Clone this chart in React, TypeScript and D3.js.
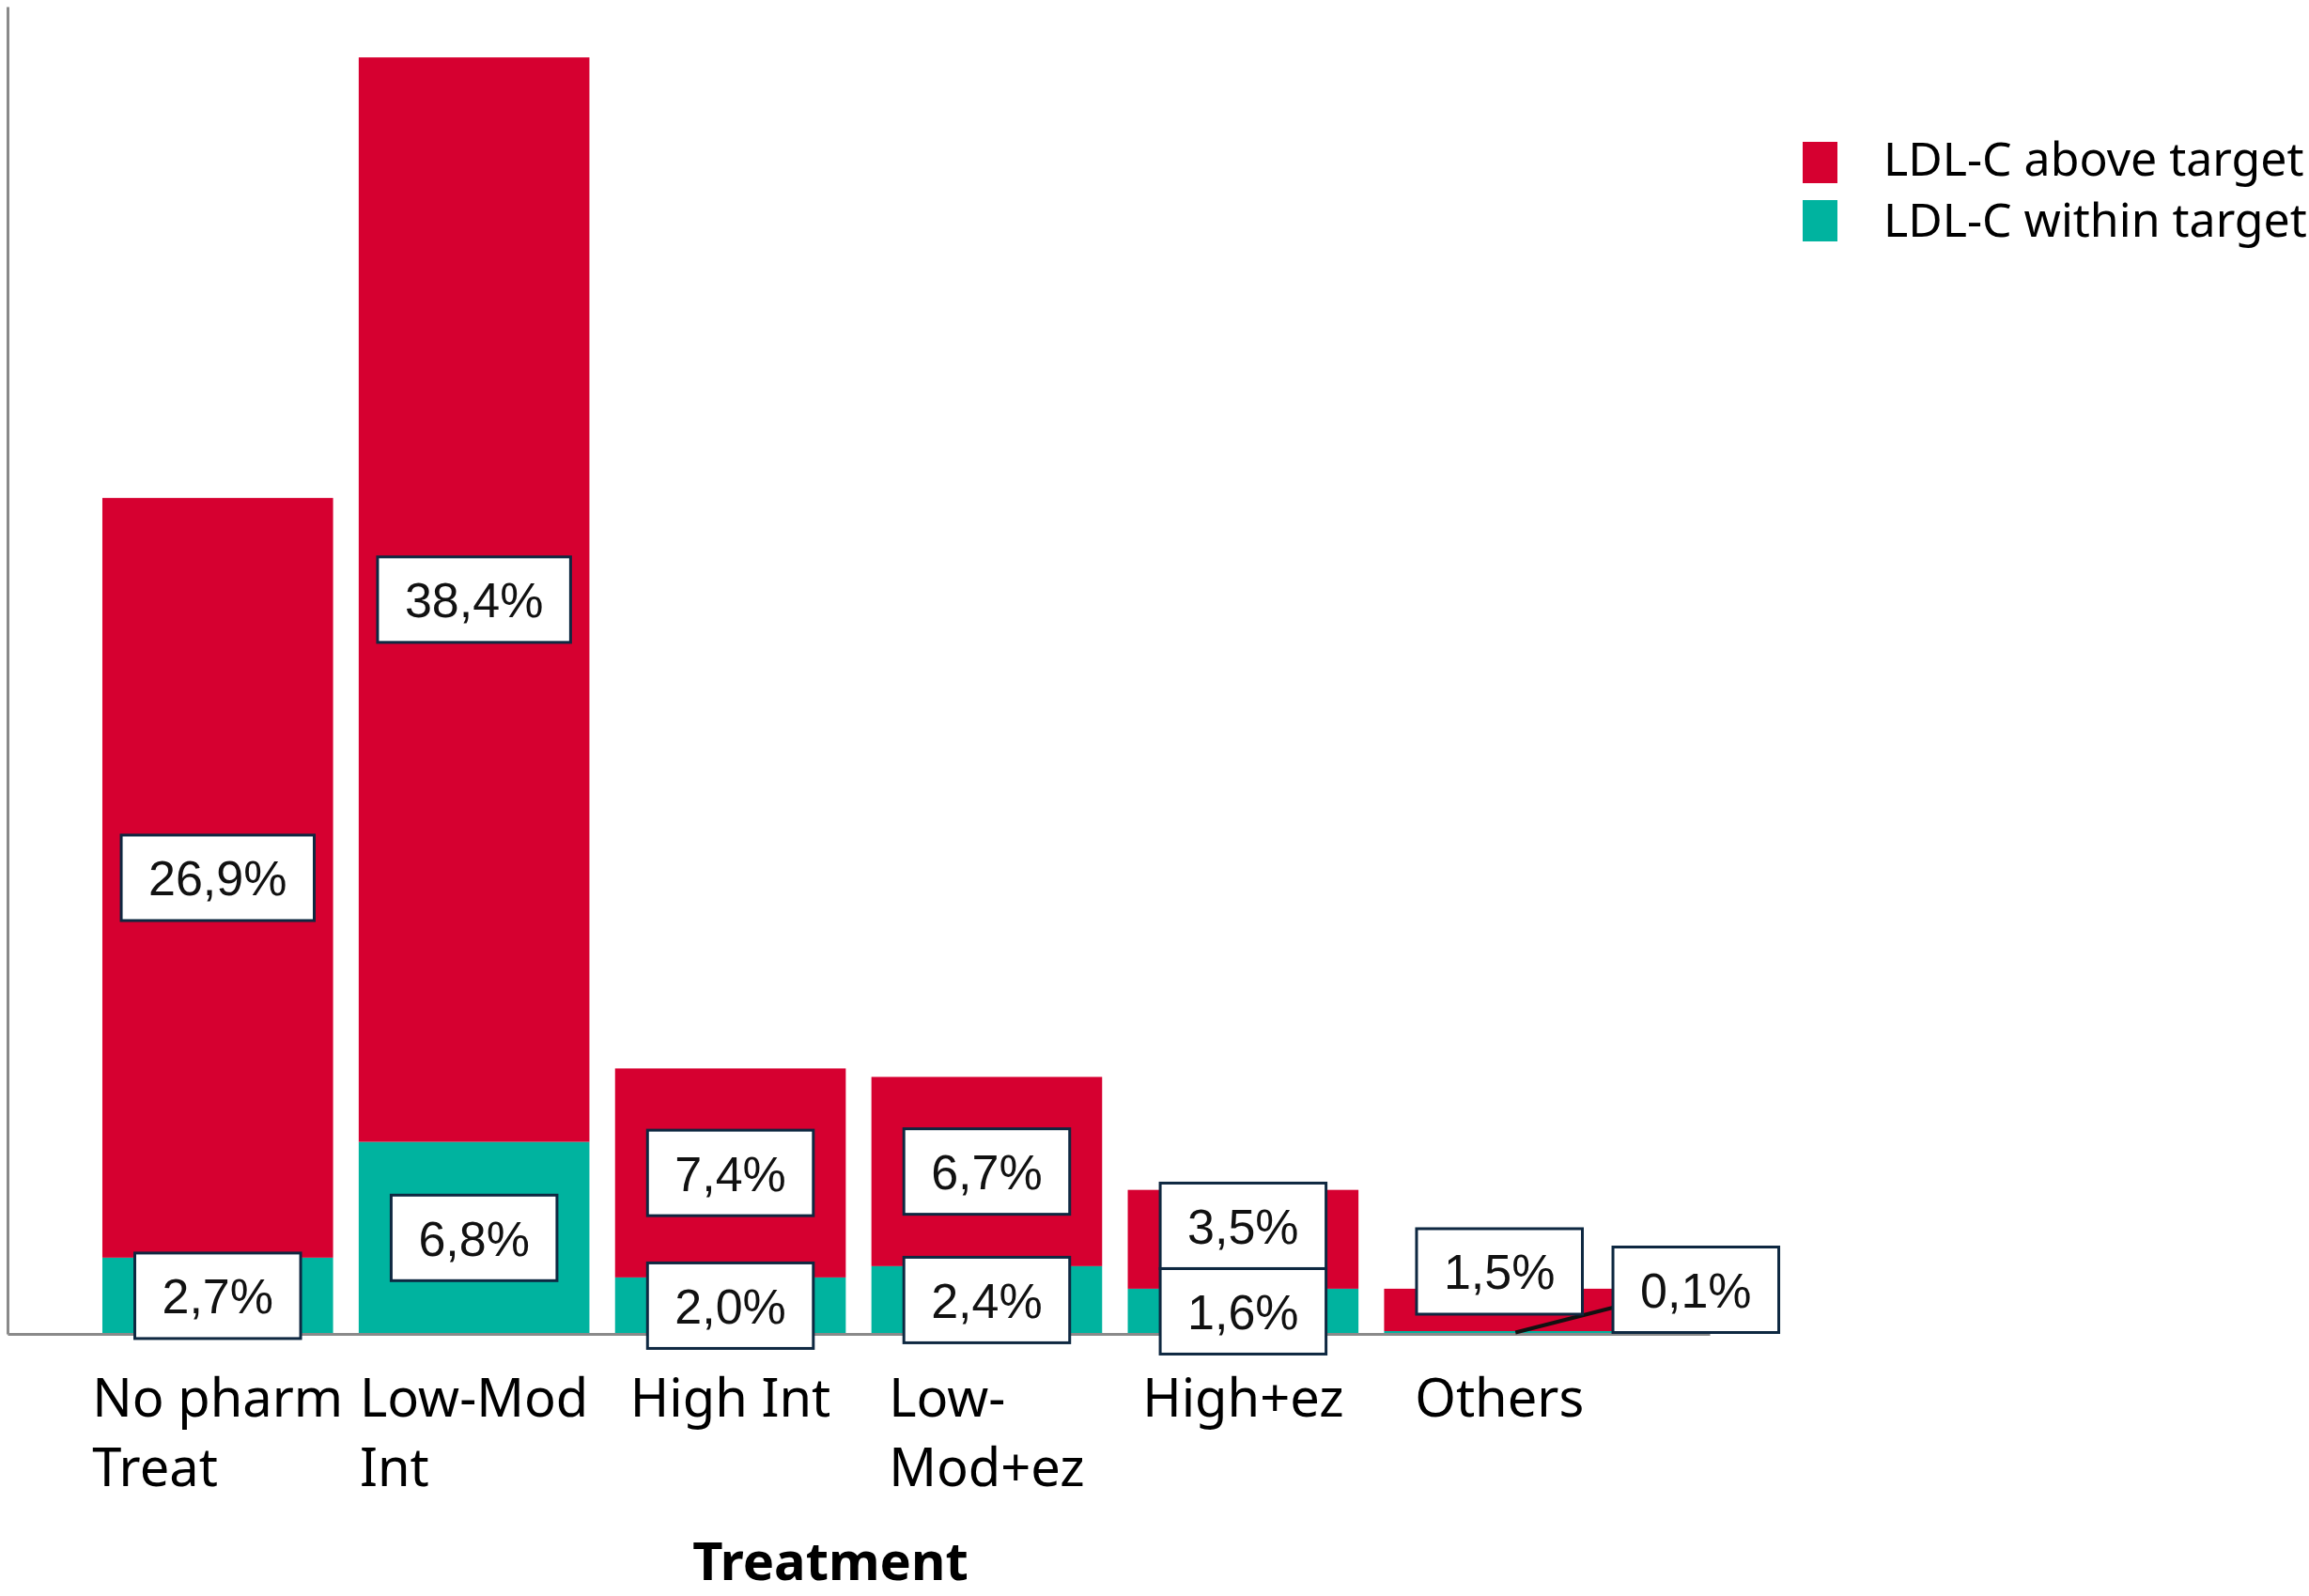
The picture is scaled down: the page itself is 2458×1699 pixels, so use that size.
import { useEffect, useMemo, useRef } from "react";
import * as d3 from "d3";

// chart data
const categories = ["No pharm Treat", "Low-Mod Int", "High Int", "Low-Mod+ez", "High+ez", "Others"];
const categoryLines = [["No pharm", "Treat"], ["Low-Mod", "Int"], ["High Int"], ["Low-", "Mod+ez"], ["High+ez"], ["Others"]];
const withinTarget = [2.7, 6.8, 2.0, 2.4, 1.6, 0.1];
const aboveTarget = [26.9, 38.4, 7.4, 6.7, 3.5, 1.5];
const seriesKeys = ["within", "above"];
const seriesNames = ["LDL-C above target", "LDL-C within target"];
const axisMax = 47;

const RED = "#d60030";
const GREEN = "#00b39f";
const BOX_STROKE = "#0e2841";
const AXIS = "#8a8a8a";

const W = 2458;
const H = 1699;
const baseY = 1420;
const topY = 7;
const leftX = 8;
const rightX = 1820;

const labelFont = "Liberation Sans, Arial, sans-serif";
const textFont = "'Noto Sans', sans-serif";
const labelSize = 52;
const boxH = 91;
const boxPad = 29;

let ctx: CanvasRenderingContext2D | null = null;
function measure(text: string, font: string) {
  if (!ctx) ctx = document.createElement("canvas").getContext("2d");
  if (!ctx) return text.length * 28;
  ctx.font = font;
  return ctx.measureText(text).width;
}

const fmt = (v: number) => v.toFixed(1).replace(".", ",") + "%";

interface Label {
  key: string;
  text: string;
  cx: number;
  cy: number;
  w: number;
  leader?: [number, number, number, number];
}

function AxisBottom({ scale }: { scale: d3.ScaleBand<string> }) {
  const ref = useRef<SVGGElement>(null);
  useEffect(() => {
    if (ref.current) {
      const g = d3.select(ref.current);
      g.call(d3.axisBottom(scale).tickSize(0).tickFormat(() => ""));
      g.select(".domain").attr("stroke", AXIS).attr("stroke-width", 3);
    }
  }, [scale]);
  return <g ref={ref} transform={`translate(0,${baseY})`} />;
}

function AxisLeft({ scale }: { scale: d3.ScaleLinear<number, number> }) {
  const ref = useRef<SVGGElement>(null);
  useEffect(() => {
    if (ref.current) {
      const g = d3.select(ref.current);
      g.call(d3.axisLeft(scale).tickValues([]).tickSizeOuter(0));
      g.select(".domain").attr("stroke", AXIS).attr("stroke-width", 3);
    }
  }, [scale]);
  return <g ref={ref} transform={`translate(${leftX},0)`} />;
}

export default function App() {
  const x = d3.scaleBand<string>().domain(categories).range([leftX, rightX]).paddingInner(0.1).paddingOuter(0.37);
  const y = d3.scaleLinear().domain([0, axisMax]).range([baseY, topY]);

  const rows = categories.map((c, i) => ({ category: c, within: withinTarget[i], above: aboveTarget[i] }));
  const stacked = d3.stack<any>().keys(seriesKeys)(rows);

  const labels = useMemo(() => {
    const out: Label[] = [];
    categories.forEach((c, i) => {
      const bx = x(c) ?? 0;
      const bw = x.bandwidth();
      const cx = bx + bw / 2;
      const segs = stacked.map((s) => {
        const [v0, v1] = s[i];
        const text = fmt(v1 - v0);
        return {
          key: `${s.key}-${c}`,
          text,
          top: y(v1),
          bottom: y(v0),
          w: measure(text, `${labelSize}px ${labelFont}`) + boxPad * 2,
        };
      });
      const hasCallout = segs.some((s) => s.bottom - s.top < boxH * 0.2);
      let prevTop = Infinity;
      segs.forEach((s) => {
        const mid = (s.top + s.bottom) / 2;
        if (s.bottom - s.top < boxH * 0.2) {
          // too thin: move the label to the right of the bar with a leader line
          const left = bx + bw - 2;
          const cy = mid - boxH / 2;
          out.push({ key: s.key, text: s.text, cx: left + s.w / 2, cy, w: s.w, leader: [cx + 17, mid, left, cy + 19] });
          return;
        }
        let cy = hasCallout ? mid - boxH * 0.45 : mid;
        if (cy + boxH / 2 > prevTop) cy = prevTop - boxH / 2;
        prevTop = cy - boxH / 2;
        out.push({ key: s.key, text: s.text, cx, cy, w: s.w });
      });
    });
    return out;
  }, []);

  const catFont = `56px ${textFont}`;

  return (
    <svg width={W} height={H} style={{ position: "absolute", left: 0, top: 0, background: "#fff" }}>
      {stacked.map((s) => (
        <g key={s.key} fill={s.key === "above" ? RED : GREEN}>
          {s.map((d, i) => (
            <rect
              key={categories[i]}
              x={x(categories[i])}
              y={y(d[1])}
              width={x.bandwidth()}
              height={y(d[0]) - y(d[1])}
            />
          ))}
        </g>
      ))}

      <AxisLeft scale={y} />
      <AxisBottom scale={x} />

      {labels.map((l) =>
        l.leader ? (
          <line key={`ld-${l.key}`} x1={l.leader[0]} y1={l.leader[1]} x2={l.leader[2]} y2={l.leader[3]} stroke="#111" strokeWidth={4} />
        ) : null
      )}
      {labels.map((l) => (
        <g key={l.key}>
          <rect x={l.cx - l.w / 2} y={l.cy - boxH / 2} width={l.w} height={boxH} fill="#fff" stroke={BOX_STROKE} strokeWidth={3} />
          <text x={l.cx} y={l.cy + 19} textAnchor="middle" fontFamily={labelFont} fontSize={labelSize} fill="#111">
            {l.text}
          </text>
        </g>
      ))}

      {categories.map((c, i) => {
        const lines = categoryLines[i];
        const maxW = Math.max(...lines.map((t) => measure(t, catFont)));
        const left = (x(c) ?? 0) + x.bandwidth() / 2 - maxW / 2;
        return (
          <text key={`cat-${c}`} fontFamily={textFont} fontSize={56} fill="#000">
            {lines.map((t, j) => (
              <tspan key={t} x={left} y={baseY + 88 + j * 74}>
                {t}
              </tspan>
            ))}
          </text>
        );
      })}

      <text x={884} y={1682} textAnchor="middle" fontFamily={textFont} fontWeight="bold" fontSize={56} fill="#000">
        Treatment
      </text>

      {seriesNames.map((name, i) => (
        <g key={name} transform={`translate(1919,${151 + i * 62})`}>
          <rect width={37} height={44} fill={i === 0 ? RED : GREEN} />
          <text x={86} y={36 + i * 3} fontFamily={textFont} fontSize={50} fill="#000">
            {name}
          </text>
        </g>
      ))}
    </svg>
  );
}
